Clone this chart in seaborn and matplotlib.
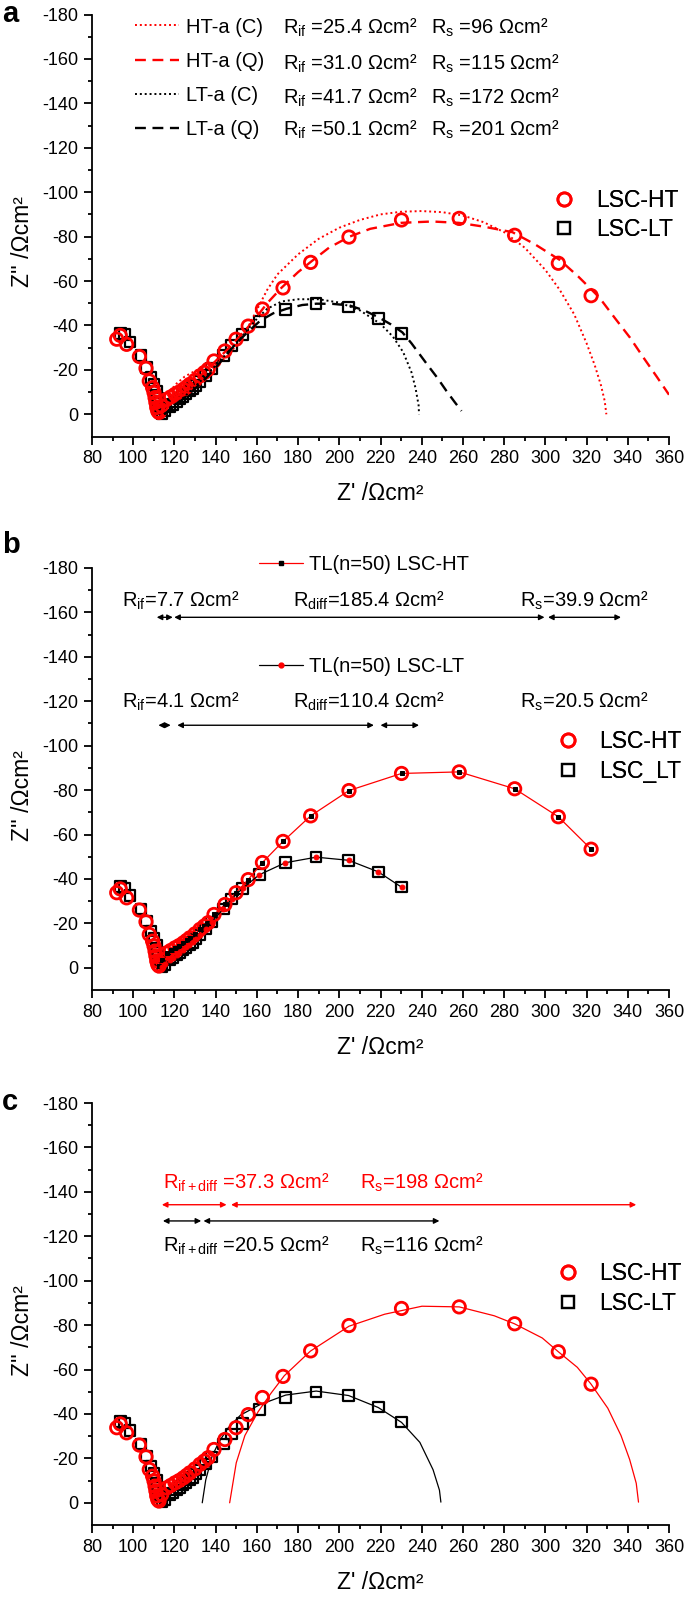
import numpy as np
import matplotlib
matplotlib.use("Agg")
import matplotlib.pyplot as plt
from matplotlib.lines import Line2D
import seaborn as sns

# measured impedance spectra (Z' and Z'' in Ohm cm2, Z'' negative = capacitive)
ht_re = [92.0, 93.7, 96.8, 103.0, 106.2, 107.8, 109.4, 110.1, 110.6, 111.0, 111.4, 111.9,
         112.5, 113.8, 116.2, 118.2, 120.3, 122.3, 124.3, 125.9, 127.5, 130.0, 132.4, 134.5,
         136.4, 139.2, 144.5, 149.9, 155.8, 162.7, 172.7, 186.1, 204.7, 230.2, 258.2, 285.1,
         306.3, 322.2]
ht_im = [-33.8, -35.5, -31.5, -26.0, -20.7, -15.0, -12.0, -9.8, -7.5, -5.4, -3.1, -1.5,
         -0.8, -3.7, -6.7, -7.8, -9.0, -10.0, -11.2, -12.3, -13.5, -15.3, -17.3, -18.8,
         -20.3, -24.0, -28.5, -33.8, -39.7, -47.4, -56.9, -68.4, -79.8, -87.5, -88.2, -80.6,
         -68.0, -53.4]
lt_re = [93.8, 95.9, 98.5, 103.8, 106.5, 108.7, 110.1, 111.2, 111.8, 112.2, 112.9, 113.9,
         115.4, 117.8, 119.2, 121.1, 122.4, 124.0, 125.6, 127.2, 128.8, 130.5, 132.2, 135.2,
         138.0, 143.7, 147.8, 153.1, 161.2, 173.8, 188.8, 204.5, 218.9, 230.2]
lt_im = [-36.5, -36.0, -32.6, -26.5, -21.0, -16.5, -13.4, -10.3, -7.2, -4.9, -2.6, -0.3,
         -1.5, -3.5, -4.5, -5.8, -6.8, -8.0, -9.2, -10.4, -11.5, -13.0, -14.8, -17.5,
         -20.6, -26.4, -31.0, -35.8, -41.9, -47.3, -49.8, -48.4, -43.2, -36.3]

# panel a: fitted curves
htc_re = [113.5, 116, 120, 125, 130, 135, 140, 145, 150, 155, 160, 165, 170, 180, 190, 200,
          210, 220, 230, 240, 250, 260, 270, 280, 290, 300, 307, 314, 320, 324, 327, 328.8, 329.6]
htc_im = [0, -7, -13, -17, -19.5, -21, -22.5, -25.5, -31, -38, -47, -56, -63, -72, -79, -84,
          -87.5, -90, -91.2, -91.5, -91, -89.5, -86.5, -82, -75, -65, -56, -45, -32, -22, -13, -6, 0]
htq_re = [113, 115, 120, 125, 130, 135, 140, 145, 150, 155, 160, 165, 172, 180, 186, 195, 205,
          215, 230, 245, 258, 270, 284, 295, 307, 316, 326, 334, 341, 348, 354, 360]
htq_im = [0, -3, -7, -11, -15, -19.5, -24, -28.5, -33.5, -38.5, -44, -50, -57, -64, -68.5,
          -75, -80, -83.5, -86.2, -86.8, -86.2, -84.5, -82, -76.5, -69.5, -62, -52.8, -43,
          -34.6, -25, -17, -8.8]
ltc_re = [115, 120, 125, 130, 135, 140, 145, 150, 155, 160, 165, 172, 180, 190, 200, 210, 220,
          226, 231, 235, 237, 238.5, 238.7]
ltc_im = [0, -4, -8, -12.5, -17, -22, -27, -32, -37.5, -43, -47.5, -50.8, -51.8, -51.8, -50.3,
          -46.8, -40.7, -35, -28, -19, -11.8, -4, 0]
ltq_re = [115, 120, 125, 130, 135, 140, 145, 150, 155, 161.7, 168, 174.4, 182, 189, 197, 205,
          212, 219, 225, 230.6, 235, 239, 243, 247.6, 252, 256, 259.3]
ltq_im = [0, -3.5, -7.5, -11.5, -16, -21, -26.5, -32, -36.5, -42.2, -45.5, -47.5, -49.2, -49.8,
          -49.7, -49, -46.8, -43.7, -40.5, -36.9, -32, -27, -22, -16.4, -10.5, -5.5, -1.5]
fit_labels_a = ["HT-a (C)", "HT-a (Q)", "LT-a (C)", "LT-a (Q)"]
rif_a = ["25.4", "31.0", "41.7", "50.1"]
rs_a = ["96", "115", "172", "201"]

# panel b: transmission line fit (n=50) points, same frequencies as the data
tl_ht_re = ht_re[12:]
tl_ht_im = ht_im[12:]
tl_lt_re = lt_re[11:]
tl_lt_im = lt_im[11:]

# panel c: semicircle fits
arc_ht_re = [146.8, 150, 154.2, 160.6, 167, 173.3, 186, 204.7, 222, 240.1, 258.2, 275.2, 285,
             298.5, 306.3, 315.5, 322.2, 330.3, 336.7, 340.9, 344.1, 345.2]
arc_ht_im = [0, -18, -30.3, -41, -49.5, -57.2, -68.3, -79.5, -84.9, -88.5, -88.2, -84.2, -80.6,
             -74.2, -68, -61, -53.4, -42.6, -30.3, -19.5, -8.8, -0.3]
arc_lt_re = [133.5, 135.2, 138.3, 141.5, 145.8, 152.1, 161.5, 174, 188.8, 204.5, 218.9, 230.2,
             239.1, 245.5, 248.6, 249.3]
arc_lt_im = [0, -10.3, -21, -27.2, -33.4, -39.5, -44.2, -48.5, -50.3, -48.3, -42.9, -36.2,
             -27.2, -14.9, -5.7, -0.3]

RED = "#ff0000"

sns.set_theme(style="ticks")
plt.rcParams["font.family"] = ["Liberation Sans", "DejaVu Sans"]
plt.rcParams["mathtext.fontset"] = "custom"
plt.rcParams["mathtext.rm"] = "Liberation Sans"
plt.rcParams["mathtext.it"] = "Liberation Sans:italic"
plt.rcParams["axes.unicode_minus"] = False
plt.rcParams["axes.edgecolor"] = "black"
plt.rcParams["xtick.color"] = "black"
plt.rcParams["ytick.color"] = "black"
plt.rcParams["text.color"] = "black"
plt.rcParams["axes.labelcolor"] = "black"


def style_axes(ax):
    ax.set_xlim(80, 360)
    ax.set_ylim(10, -180)
    ax.set_xticks(np.arange(80, 361, 20))
    ax.set_xticks(np.arange(90, 360, 20), minor=True)
    ax.set_yticks(np.arange(-180, 1, 20))
    ax.set_yticks(np.arange(-170, 10, 20), minor=True)
    sns.despine(ax=ax)
    for s in ["left", "bottom"]:
        ax.spines[s].set_linewidth(1.3)
    ax.tick_params(which="major", direction="out", length=6, width=1.3, labelsize=13, pad=4)
    ax.tick_params(which="minor", direction="out", length=3, width=1.3)
    ax.set_xlabel("Z' /\u03a9cm\u00b2", fontsize=16.5)
    ax.set_ylabel("Z'' /\u03a9cm\u00b2", fontsize=16.5)
    ax.xaxis.set_label_coords(0.499, -0.108)
    ax.yaxis.set_label_coords(-0.1, 0.461)
    ax.grid(False)


def plot_data(ax):
    sns.scatterplot(x=ht_re, y=ht_im, ax=ax, marker="o", s=80, facecolors="none",
                    edgecolor=RED, linewidth=2.0, legend=False, zorder=3)
    sns.scatterplot(x=lt_re, y=lt_im, ax=ax, marker="s", s=58, facecolors="none",
                    edgecolor="black", linewidth=1.6, legend=False, zorder=2)


def marker_legend(ax, labels, x, y):
    handles = [Line2D([], [], ls="", marker="o", ms=9.5, mfc="none", mec=RED, mew=2.0),
               Line2D([], [], ls="", marker="s", ms=8, mfc="none", mec="black", mew=1.6)]
    leg = ax.legend(handles, labels, loc="center left", bbox_to_anchor=(x, y),
                    bbox_transform=ax.transData, frameon=False, fontsize=16.5,
                    handlelength=1.0, handletextpad=0.9, labelspacing=0.3,
                    borderpad=0, borderaxespad=0)
    ax.add_artist(leg)


def arrow(ax, x1, x2, y, color):
    ax.annotate("", xy=(x2, y), xytext=(x1, y),
                arrowprops=dict(arrowstyle="<|-|>", color=color, lw=1.0,
                                mutation_scale=8, shrinkA=0, shrinkB=0))


fig = plt.figure(figsize=(6.84, 15.97), dpi=100)
W, H = 684, 1597
left, width = 92 / W, 577 / W
tops = [14.5, 568, 1103]
axes = [fig.add_axes([left, 1 - (t + 422) / H, width, 422 / H]) for t in tops]
for ax, letter, ly in zip(axes, "abc", [14, 545, 1102]):
    style_axes(ax)
    fig.text(2 / W, 1 - ly / H, letter, fontsize=21, fontweight="bold", va="center", ha="left")

# ---- panel a
ax = axes[0]
plot_data(ax)
fit_styles = [(RED, (0, (1, 1.5)), 1.4), (RED, (0, (4.6, 2.8)), 1.7),
              ("black", (0, (1, 1.5)), 1.4), ("black", (0, (4.6, 2.8)), 1.7)]
fit_curves = [(htc_re, htc_im), (htq_re, htq_im), (ltc_re, ltc_im), (ltq_re, ltq_im)]
for (fx, fy), (c, ls, lw) in zip(fit_curves, fit_styles):
    sns.lineplot(x=fx, y=fy, ax=ax, sort=False, estimator=None, color=c, lw=lw, zorder=4)
    ax.lines[-1].set_linestyle(ls)
handles = [Line2D([], [], color=c, ls=ls, lw=lw) for c, ls, lw in fit_styles]
leg = ax.legend(handles, fit_labels_a, loc="center left", bbox_to_anchor=(100.9, -151.2),
                bbox_transform=ax.transData, frameon=False, fontsize=14.5,
                handlelength=2.2, handletextpad=0.35, labelspacing=0.76,
                borderpad=0, borderaxespad=0)
ax.add_artist(leg)
rows_a = [-174.5, -158.3, -143.0, -128.8]
for yv, rif, rs in zip(rows_a, rif_a, rs_a):
    ax.text(172.5, yv + 3.3, r"$\mathrm{R}_{\mathrm{if}}$ =" + rif + " \u03a9cm\u00b2",
            fontsize=14.5, va="baseline", ha="left")
    ax.text(244.4, yv + 3.3, r"$\mathrm{R}_{\mathrm{s}}$ =" + rs + " \u03a9cm\u00b2",
            fontsize=14.5, va="baseline", ha="left")
marker_legend(ax, ["LSC-HT", "LSC-LT"], 303.7, -89.7)

# ---- panel b
ax = axes[1]
plot_data(ax)
sns.lineplot(x=tl_ht_re, y=tl_ht_im, ax=ax, sort=False, estimator=None, color=RED, lw=0.9,
             marker="s", markersize=3, mec="black", zorder=5)
ax.lines[-1].set_markerfacecolor("black")
sns.lineplot(x=tl_lt_re, y=tl_lt_im, ax=ax, sort=False, estimator=None, color="black", lw=0.9,
             marker="o", markersize=3.5, mec=RED, zorder=5)
ax.lines[-1].set_markerfacecolor(RED)
tl_specs = [(RED, "s", "black", "TL(n=50) LSC-HT", -181.4),
            ("black", "o", RED, "TL(n=50) LSC-LT", -135.8)]
for c, m, mc, lab, yv in tl_specs:
    h = Line2D([], [], color=c, lw=0.9, marker=m, ms=3.5, mfc=mc, mec=mc)
    leg = ax.legend([h], [lab], loc="center left", bbox_to_anchor=(161, yv),
                    bbox_transform=ax.transData, frameon=False, fontsize=14.5,
                    handlelength=2.2, handletextpad=0.3, borderpad=0, borderaxespad=0)
    ax.add_artist(leg)
b_rows = [(-165.9, -157.8, ["7.7", "185.4", "39.9"], [(111.4, 119.2), (119.9, 299.6), (301.3, 336.7)]),
          (-120.3, -109.2, ["4.1", "110.4", "20.5"], [(112.2, 118.2), (121.4, 216.8), (220.0, 238.7)])]
b_names = ["if", "diff", "s"]
b_xpos = [94.4, 177.5, 287.9]
for ty, ay, vals, spans in b_rows:
    for nm, xv, v in zip(b_names, b_xpos, vals):
        ax.text(xv, ty + 3.3, r"$\mathrm{R}_{\mathrm{" + nm + "}}$=" + v + " \u03a9cm\u00b2",
                fontsize=14.5, va="baseline", ha="left")
    for x1, x2 in spans:
        arrow(ax, x1, x2, ay, "black")
marker_legend(ax, ["LSC-HT", "LSC_LT"], 305.2, -95.0)

# ---- panel c
ax = axes[2]
sns.lineplot(x=arc_ht_re, y=arc_ht_im, ax=ax, sort=False, estimator=None, color=RED, lw=0.9)
sns.lineplot(x=arc_lt_re, y=arc_lt_im, ax=ax, sort=False, estimator=None, color="black", lw=0.9)
plot_data(ax)
c_rows = [(RED, -144.9, -134.2, "37.3", "198", [(113.9, 145.3), (147.5, 344.1)]),
          ("black", -116.5, -126.9, "20.5", "116", [(114.4, 133.0), (134.1, 248.6)])]
for c, ty, ay, rv, sv, spans in c_rows:
    ax.text(114.4, ty + 3.3, r"$\mathrm{R}_{\mathrm{if+diff}}$ =" + rv + " \u03a9cm\u00b2",
            fontsize=14.5, va="baseline", ha="left", color=c)
    ax.text(210.0, ty + 3.3, r"$\mathrm{R}_{\mathrm{s}}$=" + sv + " \u03a9cm\u00b2",
            fontsize=14.5, va="baseline", ha="left", color=c)
    for x1, x2 in spans:
        arrow(ax, x1, x2, ay, c)
marker_legend(ax, ["LSC-HT", "LSC-LT"], 305.2, -96.6)

fig.savefig("out.png", dpi=100)
